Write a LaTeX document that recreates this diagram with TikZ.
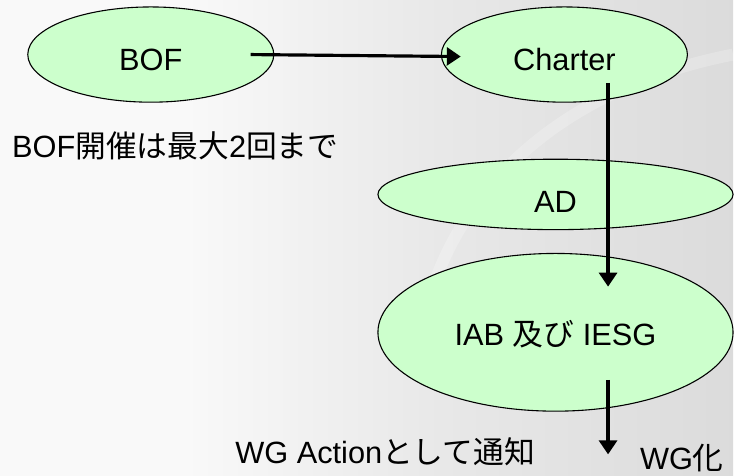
\documentclass[tikz,border=0pt]{standalone}
\usepackage{fontspec}
\setmainfont{Liberation Sans}
\newfontfamily\jp{Noto Sans CJK JP}
\usepackage{tikz}
\usetikzlibrary{arrows.meta,shapes,positioning}
\usepackage{xcolor}
\definecolor{wgpale}{RGB}{204,255,204}
\pgfdeclarehorizontalshading{wgback}{100bp}{rgb(0bp)=(0.985,0.985,0.985); rgb(30bp)=(0.975,0.975,0.975); rgb(38bp)=(0.975,0.975,0.975); rgb(55bp)=(0.91,0.91,0.91); rgb(75bp)=(0.86,0.86,0.86); rgb(100bp)=(0.80,0.80,0.80)}
\tikzstyle{bubble} = [ellipse, draw=black, line width=1.1pt, fill=wgpale, inner sep=0pt, text height=32pt, text depth=0pt]
\tikzstyle{flow} = [line width=3.2pt, -{Triangle[width=18pt,length=14pt]}]
\tikzstyle{note} = [inner sep=0pt, anchor=base west]

\begin{document}
\begin{tikzpicture}[x=1pt, y=-1pt, font=\fontsize{31}{36}\selectfont]
% background
\shade[shading=wgback] (0,0) rectangle (739,479);
\draw[white, opacity=0.22, line width=12pt] (739,55) .. controls (560,90) and (440,200) .. (420,360);
\useasboundingbox (0,0) rectangle (739,479);

\node[bubble, minimum width=248pt, minimum height=96pt] (bof) at (152,55) {BOF};
\node[bubble, minimum width=248pt, minimum height=96pt] (charter) at (569,55) {Charter};
\node[bubble, minimum width=358pt, minimum height=71pt, text height=36pt] (ad) at (560,196) {AD};
\node[bubble, minimum width=358pt, minimum height=159pt, text height=26pt] (iab) at (560,335) {IAB {\jp 及び} IESG};

\node[note] (limit) at (12,159) {BOF{\jp 開催は最大}2{\jp 回まで}};
\node[note] (notify) at (237,467) {WG Action{\jp として通知}};
\node[note] (wg) at (645,473) {WG{\jp 化}};

\draw[flow] ([xshift=-24pt]bof.east) -- ([xshift=20pt,yshift=-2pt]charter.west);
\draw[flow] ([xshift=44pt,yshift=20pt]charter.south) -- ([xshift=53pt,yshift=-34pt]iab.north);
\draw[flow] ([xshift=53pt,yshift=32pt]iab.south) -- ([xshift=53pt,yshift=-43pt]iab.south);
\end{tikzpicture}
\end{document}
